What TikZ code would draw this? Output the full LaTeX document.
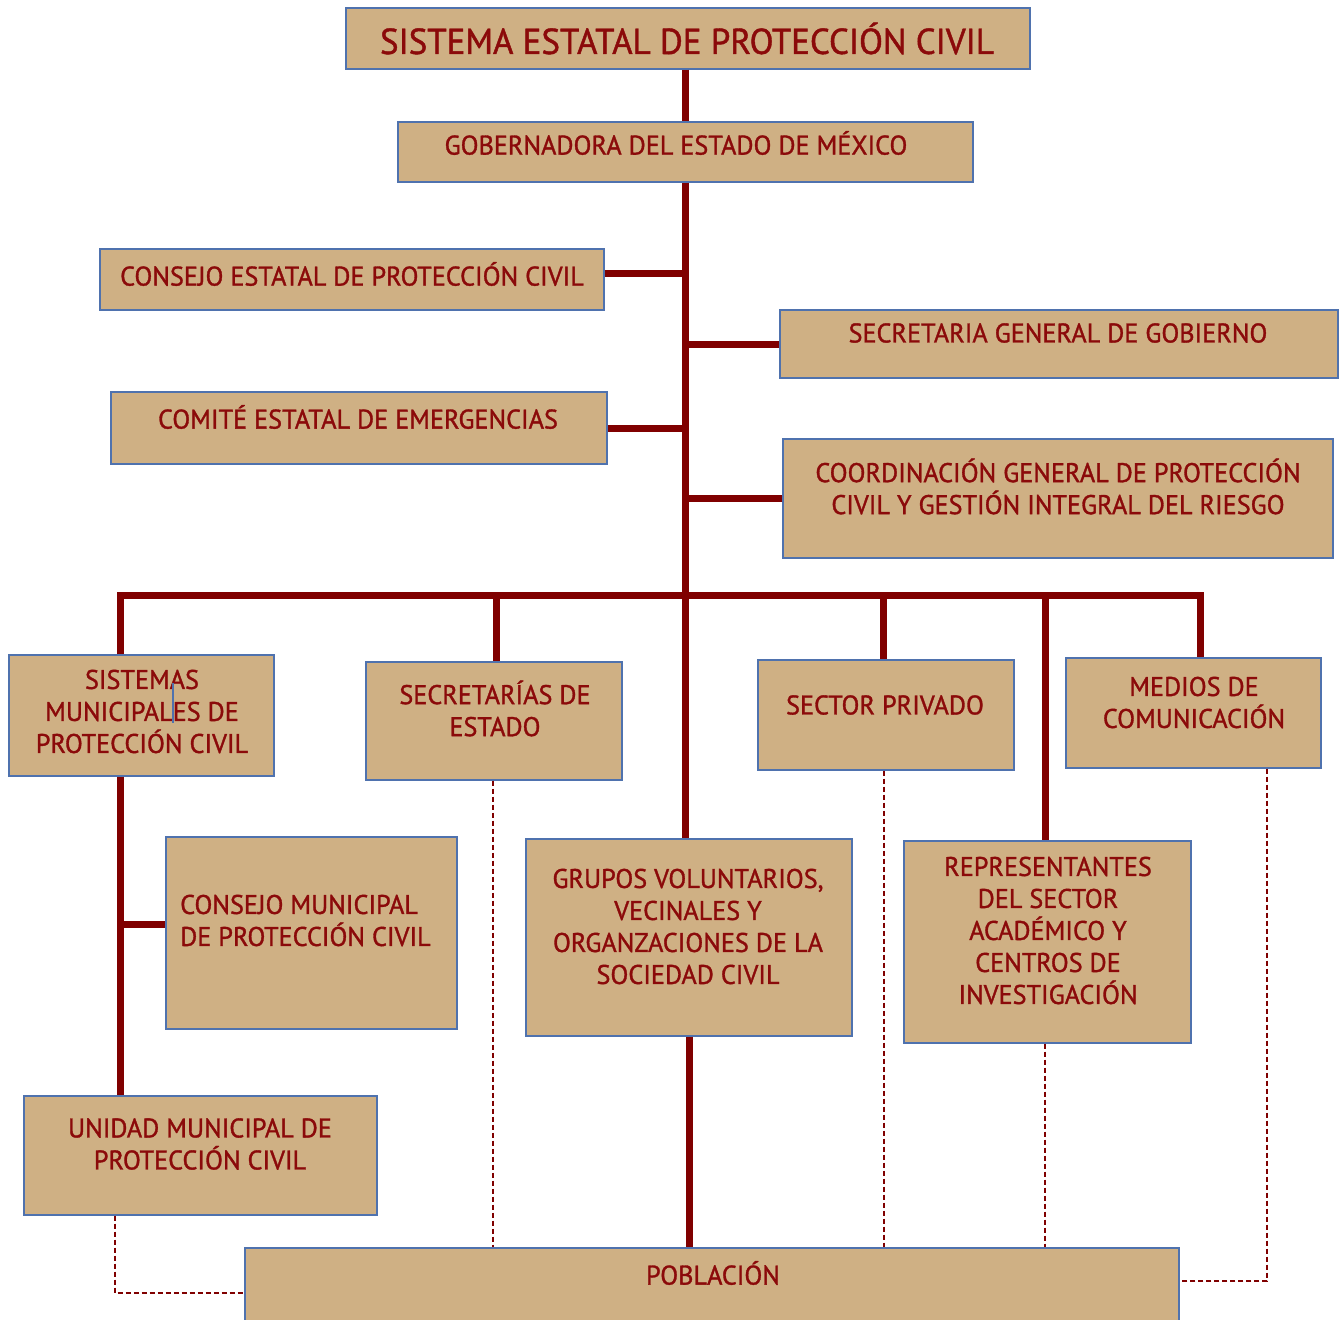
\documentclass[tikz,border=0pt]{standalone}
\usepackage{fontspec}
\newfontfamily\lbl[FakeStretch=0.97,FakeBold=1.2]{PT Sans}
\definecolor{boxtan}{HTML}{CFB084}
\definecolor{bordblue}{HTML}{4F72AE}
\definecolor{txtred}{HTML}{8B0A0A}
\definecolor{linered}{HTML}{800000}
\begin{document}
\begin{tikzpicture}[x=1pt,y=-1pt,
  box/.style={draw=bordblue, line width=1.3pt, fill=boxtan, inner sep=0pt},
  txt/.style={text=txtred, font=\lbl\fontsize{27}{32}\selectfont, align=center, inner sep=0pt},
  main/.style={draw=linered, line width=7pt, line join=miter},
  dline/.style={draw=linered, line width=1.5pt, dash pattern=on 5pt off 3pt}]
\useasboundingbox (0,0) rectangle (1340,1319);
% boxes
\node[box, minimum width=684pt, minimum height=61pt] (title) at (688,38.5) {};
\node[box, minimum width=575pt, minimum height=60pt] (gob) at (685.5,152) {};
\node[box, minimum width=504pt, minimum height=61pt] (cest) at (352,279.5) {};
\node[box, minimum width=558pt, minimum height=68pt] (sgg) at (1059,344) {};
\node[box, minimum width=496pt, minimum height=72pt] (com) at (359,428) {};
\node[box, minimum width=550pt, minimum height=119pt] (coord) at (1058,498.5) {};
\node[box, minimum width=265pt, minimum height=121pt] (sis) at (141.5,715.5) {};
\node[box, minimum width=256pt, minimum height=118pt] (sec) at (494,721) {};
\node[box, minimum width=256pt, minimum height=110pt] (priv) at (886,715) {};
\node[box, minimum width=255pt, minimum height=110pt] (med) at (1193.5,713) {};
\node[box, minimum width=291pt, minimum height=192pt] (cmun) at (311.5,933) {};
\node[box, minimum width=326pt, minimum height=197pt] (grp) at (689,937.5) {};
\node[box, minimum width=287pt, minimum height=202pt] (rep) at (1047.5,942) {};
\node[box, minimum width=353pt, minimum height=119pt] (uni) at (200.5,1155.5) {};
\node[box, minimum width=934pt, minimum height=82pt] (pob) at (712,1289) {};
% texts
\node[txt, font=\lbl\fontsize{36}{40}\selectfont] (ttitle) at (687,38.5) {SISTEMA ESTATAL DE PROTECCIÓN CIVIL};
\node[txt] (tgob) at (676,143) {GOBERNADORA DEL ESTADO DE MÉXICO};
\node[txt] (tcest) at (352,274) {CONSEJO ESTATAL DE PROTECCIÓN CIVIL};
\node[txt] (tsgg) at (1058,333) {SECRETARIA GENERAL DE GOBIERNO};
\node[txt] (tcom) at (358,417) {COMITÉ ESTATAL DE EMERGENCIAS};
\node[txt] (tcoord) at (1058,486.5) {COORDINACIÓN GENERAL DE PROTECCIÓN\\CIVIL Y GESTIÓN INTEGRAL DEL RIESGO};
\node[txt] (tsis) at (142,711.5) {SISTEMAS\\MUNICIPALES DE\\PROTECCIÓN CIVIL};
\node[txt] (tsec) at (495,708.5) {SECRETARÍAS DE\\ESTADO};
\node[txt] (tpriv) at (885,705) {SECTOR PRIVADO};
\node[txt] (tmed) at (1194,702.5) {MEDIOS DE\\COMUNICACIÓN};
\node[txt, align=left, anchor=west] (tcmun) at (180,920.5) {CONSEJO MUNICIPAL\\DE PROTECCIÓN CIVIL};
\node[txt] (tgrp) at (688,926.5) {GRUPOS VOLUNTARIOS,\\VECINALES Y\\ORGANZACIONES DE LA\\SOCIEDAD CIVIL};
\node[txt] (trep) at (1048,930.5) {REPRESENTANTES\\DEL SECTOR\\ACADÉMICO Y\\CENTROS DE\\INVESTIGACIÓN};
\node[txt] (tuni) at (200,1144) {UNIDAD MUNICIPAL DE\\PROTECCIÓN CIVIL};
\node[txt] (tpob) at (713,1273) {POBLACIÓN};
% small cursor mark
\draw[bordblue, line width=1.2pt] (173,683) -- (173,723);
% main connectors
\draw[main] (gob.north |- title.south) -- (gob.north);
\draw[main] (gob.south) -- (gob.south |- grp.north);
\coordinate (k1) at (687,273);
\draw[main] (cest.east |- k1) -- (k1);
\draw[main] (sgg.west) -- (sgg.west -| gob.south);
\draw[main] (com.east) -- (com.east -| gob.south);
\draw[main] (coord.west) -- (coord.west -| gob.south);
\coordinate (b1) at (120,595);
\coordinate (b2) at (496,595);
\coordinate (b3) at (883,595);
\coordinate (b4) at (1045,595);
\coordinate (b5) at (1200,595);
\draw[main] (b1 |- sis.north) -- (b1) -- (b5) -- (b5 |- med.north);
\draw[main] (b2) -- (b2 |- sec.north);
\draw[main] (b3) -- (b3 |- priv.north);
\draw[main] (b4) -- (b4 |- rep.north);
\draw[main] (b1 |- sis.south) -- (b1 |- uni.north);
\coordinate (m1) at (120,924);
\draw[main] (m1) -- (m1 -| cmun.west);
\draw[main] (grp.south) -- (grp.south |- pob.north);
% dashed connectors
\coordinate (u1) at (115,1293);
\draw[dline] (uni.south -| u1) -- (u1) -- (u1 -| pob.west);
\coordinate (ds) at (493,780);
\draw[dline] (ds |- sec.south) -- (ds |- pob.north);
\coordinate (dp) at (884,770);
\draw[dline] (dp |- priv.south) -- (dp |- pob.north);
\coordinate (dr) at (1045,1043);
\draw[dline] (dr |- rep.south) -- (dr |- pob.north);
\coordinate (dm) at (1267,1281);
\draw[dline] (dm |- med.south) -- (dm) -- (dm -| pob.east);
\end{tikzpicture}
\end{document}
